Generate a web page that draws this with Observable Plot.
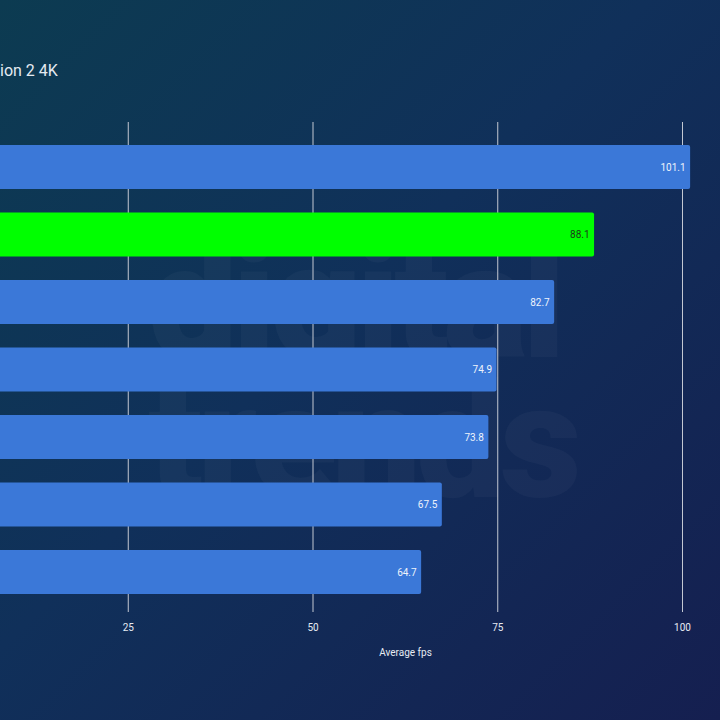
<!DOCTYPE html>
<html>
<head>
<meta charset="utf-8">
<script src="https://cdn.jsdelivr.net/npm/d3@7"></script>
<script src="https://cdn.jsdelivr.net/npm/@observablehq/plot@0.6"></script>
<style>
  html, body { margin: 0; padding: 0; background: #102a50; }
  #chart {
    position: relative; width: 720px; height: 720px; overflow: hidden;
    background: linear-gradient(135deg, #0c3b51 0%, #10305a 45%, #151f50 100%);
    font-family: Roboto, "Noto Sans", sans-serif;
  }
  #title {
    position: absolute; left: 0px; top: 61px; color: #e4eaf1;
    font-size: 16px; white-space: nowrap;
  }
  .mark {
    position: absolute; left: 148px; color: rgba(255,255,255,0.03);
    font-family: Roboto, sans-serif; font-weight: 900; letter-spacing: -6px;
    white-space: nowrap; line-height: 1;
  }
  #chart svg { position: absolute; left: 0; top: 0; background: transparent; }
</style>
</head>
<body>
<div id="chart">
  <div class="mark" style="top:222px;font-size:160px;">digital</div>
  <div class="mark" style="top:362px;font-size:160px;">trends</div>
  <div id="title">ion 2 4K</div>
</div>
<script>
// Average fps per card, top to bottom
const rank = [1, 2, 3, 4, 5, 6, 7];
const fps = [101.1, 88.1, 82.7, 74.9, 73.8, 67.5, 64.7];
const highlight = [false, true, false, false, false, false, false];
const ticks = [25, 50, 75, 100];
const axisLabel = "Average fps";

const rows = rank.map((r, i) => ({rank: r, fps: fps[i], hi: highlight[i]}));

const plot = Plot.plot({
  width: 720,
  height: 720,
  marginTop: 122,
  marginBottom: 108,
  marginLeft: 90,
  marginRight: 0,
  style: {background: "transparent", fontFamily: "Roboto, sans-serif"},
  x: {domain: [0, 100], range: [-57, 682], ticks},
  y: {domain: rank, range: [133.25, 605.75], paddingInner: 0.35, paddingOuter: 0.175, round: false, axis: null},
  marks: [
    Plot.ruleX(ticks, {stroke: "#c3c8d2", strokeWidth: 1}),
    Plot.axisX({ticks, tickSize: 0, tickPadding: 11, fontSize: 10, color: "#e6ebf2", label: null}),
    Plot.text([axisLabel], {frameAnchor: "bottom", dy: 43, fill: "#e6ebf2", fontSize: 10}),
    Plot.barX(rows, {x: "fps", y: "rank", fill: d => d.hi ? "#00ff00" : "#3b78d8", rx: 2}),
    Plot.text(rows, {
      x: "fps", y: "rank", text: d => d.fps.toFixed(1), textAnchor: "end", dx: -5,
      fill: d => d.hi ? "#1c3a1c" : "#eef3fb", fontSize: 10
    })
  ]
});
document.getElementById("chart").appendChild(plot);
</script>
</body>
</html>
